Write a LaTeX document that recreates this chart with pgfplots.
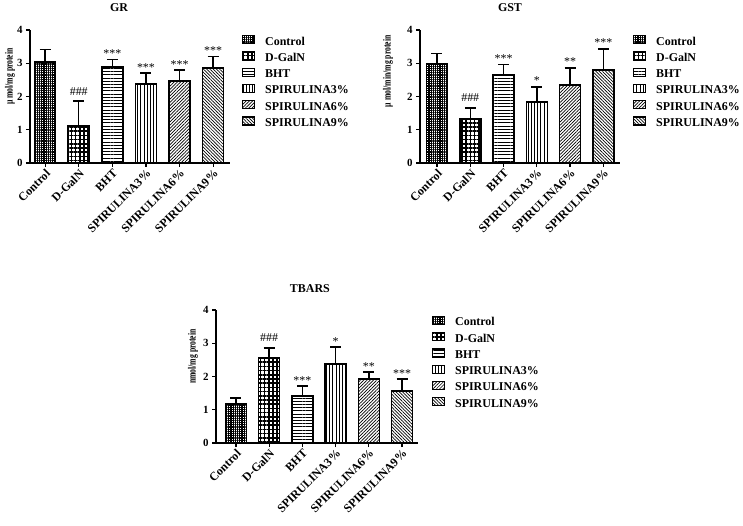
\documentclass[border=0pt]{standalone}
\usepackage{fontspec}
\setmainfont{Liberation Serif}
\usepackage{graphicx}
\usepackage{pgfplots}
\pgfplotsset{compat=1.18}
\usetikzlibrary{patterns.meta}

\tikzset{
  pC/.style={pattern={Hatch[angle=0,distance=2.2bp,line width=1.2bp]}},
  pD/.style={pattern={Hatch[angle=0,distance=4.2bp,line width=1.7bp]}},
  pB/.style={pattern={Lines[angle=0,distance=3.2bp,line width=0.8bp]}},
  p3/.style={pattern={Lines[angle=90,distance=3.2bp,line width=0.8bp]}},
  p6/.style={pattern={Lines[angle=45,distance=2.3bp,line width=0.7bp]}},
  p9/.style={pattern={Lines[angle=-45,distance=2.3bp,line width=0.7bp]}},
}

\pgfplotsset{
  panel/.style={
    scale only axis, width=200bp, height=133bp,
    ymin=0, ymax=4, ytick={0,1,2,3,4},
    axis x line*=bottom, axis y line*=left,
    axis line style={line width=1.4bp, -},
    tick style={line width=1.2bp, black},
    tick align=outside, major tick length=4bp,
    xtick={0,...,5},
    xticklabels={Control,D-GalN,BHT,SPIRULINA3\%,SPIRULINA6\%,SPIRULINA9\%},
    x tick label style={rotate=45, anchor=north east, font=\fontsize{12}{12}\selectfont\bfseries, inner sep=1bp},
    y tick label style={font=\fontsize{11}{11}\selectfont\bfseries},
    /pgf/number format/assume math mode=true,
    ylabel style={font=\fontsize{11}{11}\selectfont\bfseries, anchor=center},
    title style={font=\fontsize{12}{12}\selectfont\bfseries, anchor=base},
    legend style={anchor=north west, draw=none, fill=none, inner sep=0pt, outer sep=0pt,
      row sep=0pt, column sep=10bp, font=\fontsize{12}{12}\selectfont\bfseries,
      nodes={inner sep=0pt, text height=9bp, text depth=6.3bp}},
    legend cell align=left,
    legend image code/.code={\draw[##1, line width=1.2bp, draw=black] (0bp,0bp) rectangle (12bp,8bp);},
    clip=false,
  },
  bar/.style={ybar, bar width=21bp, bar shift=0pt, draw=black, line width=1.6bp,
    /pgfplots/error bars/y dir=plus, /pgfplots/error bars/y explicit,
    /pgfplots/error bars/draw error bar/.code 2 args={%
      \draw[line width=1.5bp, black, line cap=butt, pattern=none] ##1 -- ##2;
      \draw[line width=1.5bp, black, line cap=butt, pattern=none] ##2 ++(-5.5bp,0bp) -- ++(11bp,0bp);}},
  ann/.style={draw=none, mark=none, forget plot, nodes near coords, point meta=explicit symbolic,
    nodes near coords style={anchor=base, font=\fontsize{12}{12}\selectfont, yshift=#1, inner sep=0pt}},
}

\begin{document}
\begin{tikzpicture}
\path[use as bounding box] (0,0) rectangle (743bp,526bp);

% ---------------- GR ----------------
\begin{axis}[panel, at={(30bp,363bp)}, anchor=south west,
  xmin=-0.45, xmax=5.5,
  title={GR}, title style={at={(0.445,1)}, yshift=13bp},
  ylabel={\scalebox{0.7}[1]{\textmu\ mol/mg protein}},
  ylabel style={at={(axis description cs:-0.1,0.65)}},
  legend style={at={(1.06,0.962)}}]
\addplot[bar, pC] coordinates {(0,3.03) +- (0,0.39)};
\addplot[bar, pD] coordinates {(1,1.11) +- (0,0.75)};
\addplot[bar, pB] coordinates {(2,2.88) +- (0,0.24)};
\addplot[bar, p3] coordinates {(3,2.37) +- (0,0.33)};
\addplot[bar, p6] coordinates {(4,2.47) +- (0,0.32)};
\addplot[bar, p9] coordinates {(5,2.85) +- (0,0.36)};
\addplot[ann=6bp] coordinates {(1,1.86) [\#\#\#]};
\addplot[ann=2bp] coordinates {(2,3.12) [***] (3,2.70) [***] (4,2.79) [***] (5,3.21) [***]};
\legend{Control,D-GalN,BHT,SPIRULINA3\%,SPIRULINA6\%,SPIRULINA9\%}
\end{axis}

% ---------------- GST ----------------
\begin{axis}[panel, at={(420bp,363bp)}, anchor=south west,
  xmin=-0.51, xmax=5.5,
  title={GST}, title style={at={(0.45,1)}, yshift=13bp},
  ylabel={\scalebox{0.7}[1]{\textmu\ mol/min/mg protein}},
  ylabel style={at={(axis description cs:-0.16,0.69)}},
  legend style={at={(1.065,0.962)}}]
\addplot[bar, pC] coordinates {(0,2.97) +- (0,0.33)};
\addplot[bar, pD] coordinates {(1,1.32) +- (0,0.34)};
\addplot[bar, pB] coordinates {(2,2.64) +- (0,0.32)};
\addplot[bar, p3] coordinates {(3,1.84) +- (0,0.45)};
\addplot[bar, p6] coordinates {(4,2.34) +- (0,0.52)};
\addplot[bar, p9] coordinates {(5,2.79) +- (0,0.64)};
\addplot[ann=6bp] coordinates {(1,1.66) [\#\#\#]};
\addplot[ann=2bp] coordinates {(2,2.96) [***] (3,2.29) [*] (4,2.86) [**] (5,3.43) [***]};
\legend{Control,D-GalN,BHT,SPIRULINA3\%,SPIRULINA6\%,SPIRULINA9\%}
\end{axis}

% ---------------- TBARS ----------------
\begin{axis}[panel, at={(216bp,83bp)}, anchor=south west, width=202bp,
  xmin=-0.6, xmax=5.48,
  title={TBARS}, title style={at={(0.465,1)}, yshift=12bp},
  ylabel={\scalebox{0.7}[1]{nmol/mg protein}},
  ylabel style={at={(axis description cs:-0.114,0.65)}},
  legend style={at={(1.069,0.955)}}]
\addplot[bar, pC] coordinates {(0,1.17) +- (0,0.18)};
\addplot[bar, pD] coordinates {(1,2.55) +- (0,0.31)};
\addplot[bar, pB] coordinates {(2,1.41) +- (0,0.30)};
\addplot[bar, p3] coordinates {(3,2.37) +- (0,0.51)};
\addplot[bar, p6] coordinates {(4,1.92) +- (0,0.21)};
\addplot[bar, p9] coordinates {(5,1.56) +- (0,0.36)};
\addplot[ann=6bp] coordinates {(1,2.86) [\#\#\#]};
\addplot[ann=2bp] coordinates {(2,1.71) [***] (3,2.88) [*] (4,2.13) [**] (5,1.92) [***]};
\legend{Control,D-GalN,BHT,SPIRULINA3\%,SPIRULINA6\%,SPIRULINA9\%}
\end{axis}
\end{tikzpicture}
\end{document}
